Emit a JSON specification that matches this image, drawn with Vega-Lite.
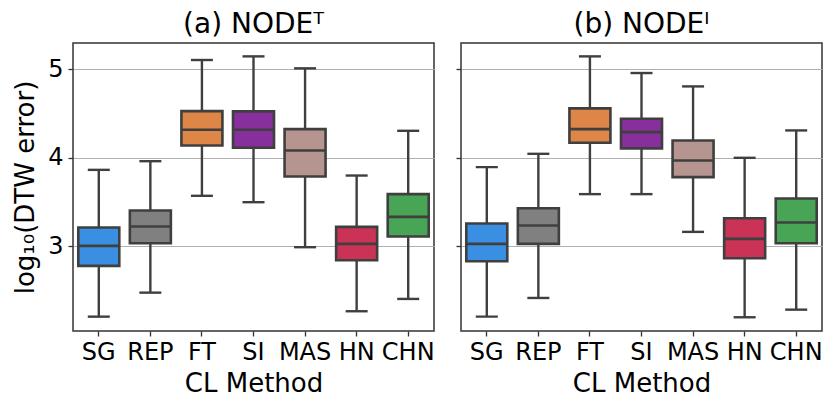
{
  "$schema": "https://vega.github.io/schema/vega-lite/v6.json",
  "background": "white",
  "padding": {"left": 11, "top": 10, "right": 12, "bottom": 5},
  "bounds": "flush",
  "spacing": 27,
  "config": {
    "font": "DejaVu Sans",
    "view": {"stroke": "#333333", "strokeWidth": 1.5},
    "axis": {
      "labelColor": "black",
      "titleColor": "black",
      "tickColor": "#333333",
      "domain": false,
      "labelFontSize": 24,
      "titleFontSize": 26,
      "titleFontWeight": "normal",
      "tickSize": 5,
      "tickWidth": 1.3
    }
  },
  "datasets": {
    "d": [
      {"panel": "a", "method": "SG", "min": 2.205, "q1": 2.778, "median": 3.004, "q3": 3.211, "max": 3.862},
      {"panel": "a", "method": "REP", "min": 2.476, "q1": 3.034, "median": 3.222, "q3": 3.403, "max": 3.960},
      {"panel": "a", "method": "FT", "min": 3.569, "q1": 4.137, "median": 4.314, "q3": 4.525, "max": 5.102},
      {"panel": "a", "method": "SI", "min": 3.497, "q1": 4.111, "median": 4.314, "q3": 4.522, "max": 5.143},
      {"panel": "a", "method": "MAS", "min": 2.989, "q1": 3.787, "median": 4.081, "q3": 4.322, "max": 5.008},
      {"panel": "a", "method": "HN", "min": 2.266, "q1": 2.842, "median": 3.026, "q3": 3.218, "max": 3.798},
      {"panel": "a", "method": "CHN", "min": 2.405, "q1": 3.109, "median": 3.331, "q3": 3.588, "max": 4.303},
      {"panel": "b", "method": "SG", "min": 2.205, "q1": 2.831, "median": 3.026, "q3": 3.256, "max": 3.893},
      {"panel": "b", "method": "REP", "min": 2.416, "q1": 3.026, "median": 3.234, "q3": 3.429, "max": 4.043},
      {"panel": "b", "method": "FT", "min": 3.588, "q1": 4.168, "median": 4.322, "q3": 4.556, "max": 5.143},
      {"panel": "b", "method": "SI", "min": 3.588, "q1": 4.104, "median": 4.288, "q3": 4.439, "max": 4.955},
      {"panel": "b", "method": "MAS", "min": 3.162, "q1": 3.780, "median": 3.968, "q3": 4.194, "max": 4.804},
      {"panel": "b", "method": "HN", "min": 2.198, "q1": 2.864, "median": 3.083, "q3": 3.316, "max": 3.998},
      {"panel": "b", "method": "CHN", "min": 2.284, "q1": 3.034, "median": 3.267, "q3": 3.539, "max": 4.307}
    ]
  },
  "hconcat": [
    {
      "width": 361,
      "height": 288,
      "title": {"text": "(a) NODEᵀ", "fontSize": 28, "fontWeight": "normal", "color": "black", "offset": 4},
      "data": {"name": "d"},
      "transform": [{"filter": "datum.panel == 'a'"}],
      "encoding": {
        "x": {
          "field": "method", "type": "nominal",
          "sort": ["SG", "REP", "FT", "SI", "MAS", "HN", "CHN"],
          "scale": {"paddingInner": 0, "paddingOuter": 0},
          "axis": {"labelAngle": 0, "title": "CL Method", "grid": false, "labelPadding": 4, "titlePadding": 6}
        }
      },
      "layer": [
        {
          "mark": {"type": "rule", "color": "#3f3f3f", "strokeWidth": 2.4},
          "encoding": {
            "y": {"field": "min", "type": "quantitative",
                  "scale": {"domain": [2.043, 5.294], "nice": false, "zero": false},
                  "axis": {"values": [3, 4, 5], "format": "d", "title": "log₁₀(DTW error)", "grid": true, "gridColor": "#b0b0b0", "gridWidth": 1, "labelPadding": 5, "titlePadding": 9}},
            "y2": {"field": "max"}
          }
        },
        {
          "mark": {"type": "tick", "color": "#3f3f3f", "size": 22, "thickness": 2.4, "opacity": 1},
          "encoding": {"y": {"field": "min", "type": "quantitative"}}
        },
        {
          "mark": {"type": "tick", "color": "#3f3f3f", "size": 22, "thickness": 2.4, "opacity": 1},
          "encoding": {"y": {"field": "max", "type": "quantitative"}}
        },
        {
          "mark": {"type": "bar", "size": 41, "stroke": "#3f3f3f", "strokeWidth": 2.6, "opacity": 1},
          "encoding": {
            "y": {"field": "q1", "type": "quantitative"},
            "y2": {"field": "q3"},
            "color": {"field": "method", "type": "nominal", "legend": null,
                      "scale": {"domain": ["SG", "REP", "FT", "SI", "MAS", "HN", "CHN"],
                                "range": ["#3b8fe3", "#808080", "#dd8648", "#872f9c", "#b69490", "#cb3356", "#48a555"]}}
          }
        },
        {
          "mark": {"type": "tick", "color": "#3f3f3f", "size": 41, "thickness": 2.6, "opacity": 1},
          "encoding": {"y": {"field": "median", "type": "quantitative"}}
        }
      ]
    },
    {
      "width": 361,
      "height": 288,
      "title": {"text": "(b) NODEᴵ", "fontSize": 28, "fontWeight": "normal", "color": "black", "offset": 4},
      "data": {"name": "d"},
      "transform": [{"filter": "datum.panel == 'b'"}],
      "encoding": {
        "x": {
          "field": "method", "type": "nominal",
          "sort": ["SG", "REP", "FT", "SI", "MAS", "HN", "CHN"],
          "scale": {"paddingInner": 0, "paddingOuter": 0},
          "axis": {"labelAngle": 0, "title": "CL Method", "grid": false, "labelPadding": 4, "titlePadding": 6}
        }
      },
      "layer": [
        {
          "mark": {"type": "rule", "color": "#3f3f3f", "strokeWidth": 2.4},
          "encoding": {
            "y": {"field": "min", "type": "quantitative",
                  "scale": {"domain": [2.043, 5.294], "nice": false, "zero": false},
                  "axis": {"values": [3, 4, 5], "title": null, "labels": false, "grid": true, "gridColor": "#b0b0b0", "gridWidth": 1}},
            "y2": {"field": "max"}
          }
        },
        {
          "mark": {"type": "tick", "color": "#3f3f3f", "size": 22, "thickness": 2.4, "opacity": 1},
          "encoding": {"y": {"field": "min", "type": "quantitative"}}
        },
        {
          "mark": {"type": "tick", "color": "#3f3f3f", "size": 22, "thickness": 2.4, "opacity": 1},
          "encoding": {"y": {"field": "max", "type": "quantitative"}}
        },
        {
          "mark": {"type": "bar", "size": 41, "stroke": "#3f3f3f", "strokeWidth": 2.6, "opacity": 1},
          "encoding": {
            "y": {"field": "q1", "type": "quantitative"},
            "y2": {"field": "q3"},
            "color": {"field": "method", "type": "nominal", "legend": null,
                      "scale": {"domain": ["SG", "REP", "FT", "SI", "MAS", "HN", "CHN"],
                                "range": ["#3b8fe3", "#808080", "#dd8648", "#872f9c", "#b69490", "#cb3356", "#48a555"]}}
          }
        },
        {
          "mark": {"type": "tick", "color": "#3f3f3f", "size": 41, "thickness": 2.6, "opacity": 1},
          "encoding": {"y": {"field": "median", "type": "quantitative"}}
        }
      ]
    }
  ]
}
